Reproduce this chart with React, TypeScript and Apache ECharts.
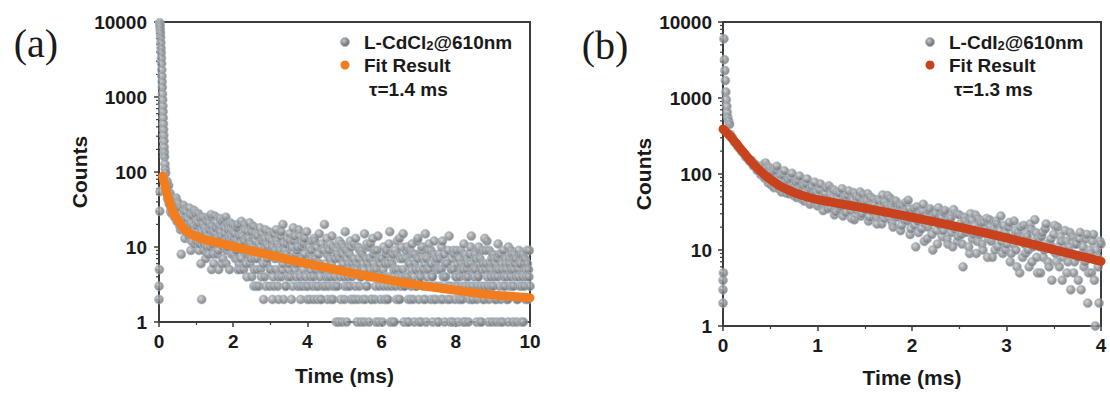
import React, { useEffect, useRef } from 'react';
import * as echarts from 'echarts';

// ---- Panel (a): L-CdCl2 emission decay monitored at 610 nm ----
const timeTicksA = [0, 2, 4, 6, 8, 10];
const countTicks = [1, 10, 100, 1000, 10000];

// background before the pulse and the excitation spike
const spikeA: [number, number][] = [
  [0.0, 2], [0.0, 3], [0.01, 5], [0.02, 30], [0.03, 55],
  [0.02, 9800], [0.025, 9200], [0.03, 8600], [0.035, 7800], [0.04, 7100], [0.045, 6200],
  [0.05, 5300], [0.055, 4500], [0.06, 3900], [0.065, 3300], [0.07, 2800], [0.075, 2300],
  [0.08, 1900], [0.085, 1600], [0.09, 1350], [0.095, 1100], [0.1, 920], [0.105, 760],
  [0.11, 640], [0.115, 530], [0.12, 440], [0.125, 370], [0.13, 310], [0.135, 260],
  [0.14, 215], [0.145, 185], [0.15, 160], [0.16, 128], [0.17, 110], [0.18, 97],
];

// 0.2 - 2 ms
const earlyA: [number, number][] = [
  [0.2, 62], [0.21, 58], [0.22, 75], [0.23, 44], [0.24, 48], [0.26, 66], [0.27, 38],
  [0.28, 41], [0.29, 47], [0.3, 52], [0.31, 30], [0.32, 35], [0.33, 42], [0.34, 28],
  [0.36, 44], [0.38, 36], [0.4, 27], [0.42, 25], [0.44, 33], [0.45, 31], [0.46, 45],
  [0.48, 22], [0.5, 40], [0.52, 38], [0.54, 27], [0.56, 19], [0.57, 34], [0.58, 17],
  [0.6, 8], [0.61, 22], [0.62, 26], [0.64, 21], [0.66, 36], [0.68, 30], [0.69, 20],
  [0.7, 13], [0.72, 16], [0.74, 29], [0.76, 24], [0.78, 18], [0.8, 14], [0.82, 33],
  [0.84, 27], [0.85, 21], [0.86, 9], [0.88, 12], [0.9, 26], [0.92, 19], [0.94, 31],
  [0.95, 16], [0.96, 11], [0.98, 28], [1.0, 22],
  [1.01, 12], [1.02, 19], [1.04, 15], [1.05, 21], [1.06, 28], [1.08, 9], [1.09, 14],
  [1.1, 11], [1.12, 24], [1.13, 6], [1.14, 16], [1.15, 2], [1.16, 12], [1.17, 20],
  [1.18, 25], [1.2, 9], [1.21, 11], [1.22, 18], [1.24, 13], [1.25, 16], [1.26, 7],
  [1.28, 22], [1.29, 10], [1.3, 14], [1.32, 8], [1.33, 25], [1.34, 21], [1.36, 17],
  [1.37, 13], [1.38, 10], [1.4, 27], [1.41, 19], [1.42, 5], [1.44, 11], [1.45, 8],
  [1.46, 16], [1.48, 6], [1.49, 12], [1.5, 26], [1.52, 15], [1.53, 18], [1.54, 11],
  [1.56, 21], [1.57, 13], [1.58, 8], [1.6, 9], [1.61, 5], [1.62, 19], [1.64, 24],
  [1.65, 16], [1.66, 13], [1.68, 14], [1.69, 22], [1.7, 6], [1.72, 7], [1.73, 10],
  [1.74, 23], [1.76, 18], [1.77, 15], [1.78, 12], [1.8, 25], [1.81, 6], [1.82, 9],
  [1.84, 10], [1.85, 20], [1.86, 17], [1.88, 13], [1.89, 11], [1.9, 5], [1.92, 21],
  [1.93, 17], [1.94, 14], [1.96, 8], [1.97, 12], [1.98, 20], [2.0, 16],
];

// 2 - 4 ms
const midA: [number, number][] = [
  [2.01, 8], [2.02, 13], [2.04, 15], [2.05, 19], [2.06, 7], [2.08, 9], [2.09, 12],
  [2.1, 18], [2.12, 20], [2.13, 5], [2.14, 10], [2.16, 6], [2.17, 14], [2.18, 5],
  [2.2, 11], [2.21, 7], [2.22, 22], [2.24, 14], [2.25, 10], [2.26, 9], [2.28, 5],
  [2.29, 20], [2.3, 12], [2.32, 17], [2.33, 9], [2.34, 6], [2.36, 8], [2.37, 4],
  [2.38, 16], [2.4, 12], [2.41, 13], [2.42, 8], [2.44, 21], [2.45, 6], [2.46, 11],
  [2.48, 7], [2.49, 16], [2.5, 4], [2.52, 10], [2.53, 9], [2.54, 19], [2.56, 3],
  [2.57, 5], [2.58, 7], [2.6, 15], [2.61, 12], [2.62, 3], [2.64, 5], [2.65, 7],
  [2.66, 14], [2.68, 11], [2.69, 3], [2.7, 9], [2.72, 18], [2.73, 10], [2.74, 5],
  [2.76, 4], [2.77, 15], [2.78, 12], [2.8, 9], [2.81, 6], [2.82, 2], [2.84, 13],
  [2.85, 4], [2.86, 17], [2.88, 3], [2.89, 11], [2.9, 6], [2.92, 7], [2.93, 8],
  [2.94, 10], [2.96, 16], [2.97, 13], [2.98, 3], [3.0, 5], [3.01, 5], [3.02, 8],
  [3.04, 12], [3.05, 10], [3.06, 2], [3.08, 4], [3.09, 3], [3.1, 15], [3.12, 9],
  [3.13, 7], [3.14, 5], [3.16, 17], [3.17, 12], [3.18, 11], [3.2, 3], [3.21, 4],
  [3.22, 2], [3.24, 10], [3.25, 9], [3.26, 7], [3.28, 14], [3.29, 16], [3.3, 4],
  [3.32, 5], [3.33, 6], [3.34, 20], [3.36, 2], [3.37, 11], [3.38, 9], [3.4, 8],
  [3.41, 3], [3.42, 3], [3.44, 11], [3.45, 8], [3.46, 13], [3.48, 4], [3.49, 5],
  [3.5, 6], [3.52, 15], [3.53, 12], [3.54, 4], [3.56, 7], [3.57, 2], [3.58, 10],
  [3.6, 3], [3.61, 7], [3.62, 18], [3.64, 12], [3.65, 14], [3.66, 5], [3.68, 6],
  [3.69, 4], [3.7, 8], [3.72, 9], [3.73, 10], [3.74, 3], [3.76, 17], [3.77, 6],
  [3.78, 14], [3.8, 4], [3.81, 3], [3.82, 2], [3.84, 10], [3.85, 12], [3.86, 7],
  [3.88, 3], [3.89, 5], [3.9, 11], [3.92, 13], [3.93, 8], [3.94, 4], [3.96, 6],
  [3.97, 3], [3.98, 16], [4.0, 2],
];

// 4 - 6 ms
const lateA1: [number, number][] = [
  [4.01, 3], [4.02, 6], [4.04, 10], [4.05, 8], [4.06, 2], [4.08, 4], [4.09, 5],
  [4.1, 9], [4.12, 7], [4.13, 12], [4.14, 3], [4.16, 2], [4.17, 4], [4.18, 13],
  [4.2, 12], [4.21, 7], [4.22, 5], [4.24, 3], [4.25, 10], [4.26, 2], [4.28, 6],
  [4.29, 3], [4.3, 8], [4.32, 15], [4.33, 6], [4.34, 4], [4.36, 2], [4.37, 2],
  [4.38, 11], [4.4, 5], [4.41, 9], [4.42, 3], [4.44, 9], [4.45, 5], [4.46, 20],
  [4.48, 3], [4.49, 4], [4.5, 6], [4.52, 13], [4.53, 8], [4.54, 2], [4.56, 4],
  [4.57, 3], [4.58, 9], [4.6, 7], [4.61, 11], [4.62, 4], [4.64, 2], [4.65, 6],
  [4.66, 14], [4.68, 10], [4.69, 2], [4.7, 3], [4.72, 5], [4.73, 4], [4.74, 7],
  [4.76, 3], [4.77, 9], [4.78, 1], [4.8, 8], [4.81, 3], [4.82, 5], [4.84, 1],
  [4.85, 7], [4.86, 12], [4.88, 4], [4.89, 5], [4.9, 2], [4.92, 11], [4.93, 1],
  [4.94, 8], [4.96, 6], [4.97, 10], [4.98, 4], [5.0, 2], [5.01, 3], [5.02, 16],
  [5.04, 9], [5.05, 7], [5.06, 1], [5.08, 3], [5.09, 4], [5.1, 6], [5.12, 5],
  [5.13, 8], [5.14, 3], [5.16, 12], [5.17, 2], [5.18, 10], [5.2, 4], [5.21, 6],
  [5.22, 2], [5.24, 7], [5.25, 11], [5.26, 5], [5.28, 2], [5.29, 3], [5.3, 13],
  [5.32, 6], [5.33, 5], [5.34, 1], [5.36, 10], [5.37, 2], [5.38, 7], [5.4, 3],
  [5.41, 9], [5.42, 4], [5.44, 1], [5.45, 4], [5.46, 9], [5.48, 8], [5.49, 6],
  [5.5, 2], [5.52, 5], [5.53, 1], [5.54, 15], [5.56, 2], [5.57, 7], [5.58, 3],
  [5.6, 11], [5.61, 3], [5.62, 6], [5.64, 4], [5.65, 10], [5.66, 1], [5.68, 7],
  [5.69, 5], [5.7, 11], [5.72, 2], [5.73, 2], [5.74, 4], [5.76, 13], [5.77, 6],
  [5.78, 8], [5.8, 5], [5.81, 9], [5.82, 2], [5.84, 3], [5.85, 1], [5.86, 5],
  [5.88, 9], [5.89, 4], [5.9, 14], [5.92, 1], [5.93, 7], [5.94, 3], [5.96, 6],
  [5.97, 2], [5.98, 7], [6.0, 4],
];

// 6 - 8 ms
const lateA2: [number, number][] = [
  [6.01, 7], [6.02, 1], [6.04, 5], [6.05, 3], [6.06, 10], [6.08, 2], [6.09, 6],
  [6.1, 4], [6.12, 8], [6.13, 9], [6.14, 2], [6.16, 3], [6.17, 2], [6.18, 6],
  [6.2, 11], [6.21, 4], [6.22, 16], [6.24, 1], [6.25, 7], [6.26, 3], [6.28, 6],
  [6.29, 1], [6.3, 8], [6.32, 4], [6.33, 5], [6.34, 1], [6.36, 9], [6.37, 3],
  [6.38, 5], [6.4, 2], [6.41, 8], [6.42, 12], [6.44, 5], [6.45, 4], [6.46, 2],
  [6.48, 13], [6.49, 2], [6.5, 7], [6.52, 3], [6.53, 10], [6.54, 4], [6.56, 7],
  [6.57, 5], [6.58, 15], [6.6, 1], [6.61, 3], [6.62, 3], [6.64, 4], [6.65, 7],
  [6.66, 9], [6.68, 10], [6.69, 4], [6.7, 1], [6.72, 2], [6.73, 1], [6.74, 6],
  [6.76, 6], [6.77, 9], [6.78, 2], [6.8, 3], [6.81, 5], [6.82, 11], [6.84, 8],
  [6.85, 2], [6.86, 4], [6.88, 1], [6.89, 6], [6.9, 8], [6.92, 5], [6.93, 3],
  [6.94, 3], [6.96, 12], [6.97, 7], [6.98, 13], [7.0, 2], [7.01, 1], [7.02, 5],
  [7.04, 4], [7.05, 4], [7.06, 1], [7.08, 9], [7.09, 10], [7.1, 7], [7.12, 3],
  [7.13, 5], [7.14, 2], [7.16, 6], [7.17, 2], [7.18, 15], [7.2, 1], [7.21, 7],
  [7.22, 4], [7.24, 5], [7.25, 3], [7.26, 9], [7.28, 11], [7.29, 5], [7.3, 3],
  [7.32, 2], [7.33, 9], [7.34, 6], [7.36, 4], [7.37, 4], [7.38, 1], [7.4, 8],
  [7.41, 2], [7.42, 12], [7.44, 3], [7.45, 6], [7.46, 2], [7.48, 7], [7.49, 3],
  [7.5, 5], [7.52, 1], [7.53, 1], [7.54, 8], [7.56, 5], [7.57, 7], [7.58, 3],
  [7.6, 2], [7.61, 5], [7.62, 10], [7.64, 12], [7.65, 2], [7.66, 4], [7.68, 4],
  [7.69, 8], [7.7, 1], [7.72, 6], [7.73, 4], [7.74, 6], [7.76, 3], [7.77, 6],
  [7.78, 2], [7.8, 9], [7.81, 3], [7.82, 14], [7.84, 2], [7.85, 1], [7.86, 3],
  [7.88, 5], [7.89, 5], [7.9, 7], [7.92, 1], [7.93, 9], [7.94, 5], [7.96, 8],
  [7.97, 3], [7.98, 2], [8.0, 4],
];

// 8 - 10 ms
const lateA3: [number, number][] = [
  [8.01, 4], [8.02, 9], [8.04, 3], [8.05, 6], [8.06, 1], [8.08, 7], [8.09, 2],
  [8.1, 4], [8.12, 2], [8.13, 9], [8.14, 6], [8.16, 5], [8.17, 3], [8.18, 2],
  [8.2, 1], [8.21, 5], [8.22, 11], [8.24, 8], [8.25, 1], [8.26, 3], [8.28, 4],
  [8.29, 7], [8.3, 5], [8.32, 6], [8.33, 4], [8.34, 1], [8.36, 3], [8.37, 2],
  [8.38, 8], [8.4, 10], [8.41, 6], [8.42, 14], [8.44, 2], [8.45, 3], [8.46, 2],
  [8.48, 5], [8.49, 8], [8.5, 4], [8.52, 8], [8.53, 5], [8.54, 7], [8.56, 1],
  [8.57, 2], [8.58, 3], [8.6, 4], [8.61, 4], [8.62, 10], [8.64, 6], [8.65, 7],
  [8.66, 1], [8.68, 3], [8.69, 1], [8.7, 5], [8.72, 9], [8.73, 6], [8.74, 2],
  [8.76, 2], [8.77, 3], [8.78, 13], [8.8, 5], [8.81, 9], [8.82, 6], [8.84, 12],
  [8.85, 4], [8.86, 3], [8.88, 1], [8.89, 2], [8.9, 9], [8.92, 6], [8.93, 5],
  [8.94, 4], [8.96, 3], [8.97, 7], [8.98, 1], [9.0, 8], [9.01, 3], [9.02, 7],
  [9.04, 4], [9.05, 6], [9.06, 2], [9.08, 2], [9.09, 1], [9.1, 5], [9.12, 7],
  [9.13, 4], [9.14, 11], [9.16, 5], [9.17, 8], [9.18, 3], [9.2, 1], [9.21, 2],
  [9.22, 8], [9.24, 6], [9.25, 5], [9.26, 1], [9.28, 9], [9.29, 3], [9.3, 4],
  [9.32, 3], [9.33, 7], [9.34, 6], [9.36, 5], [9.37, 4], [9.38, 2], [9.4, 2],
  [9.41, 1], [9.42, 10], [9.44, 7], [9.45, 6], [9.46, 3], [9.48, 4], [9.49, 9],
  [9.5, 5], [9.52, 8], [9.53, 3], [9.54, 1], [9.56, 3], [9.57, 5], [9.58, 8],
  [9.6, 6], [9.61, 7], [9.62, 4], [9.64, 1], [9.65, 2], [9.66, 2], [9.68, 5],
  [9.69, 4], [9.7, 9], [9.72, 3], [9.73, 6], [9.74, 6], [9.76, 8], [9.77, 1],
  [9.78, 3], [9.8, 4], [9.81, 8], [9.82, 1], [9.84, 6], [9.85, 3], [9.86, 7],
  [9.88, 2], [9.89, 5], [9.9, 4], [9.92, 9], [9.93, 6], [9.94, 2], [9.96, 5],
  [9.97, 4], [9.98, 9], [10.0, 3],
];

const fitA: [number, number][] = [
  [0.1, 88], [0.15, 70], [0.2, 55], [0.25, 45], [0.3, 37], [0.4, 28], [0.5, 23], [0.6, 19.5],
  [0.7, 17], [0.8, 15.5], [1.0, 13.8], [1.25, 12.5], [1.5, 11.7], [2.0, 10.2], [2.5, 8.9],
  [3.0, 7.8], [3.5, 6.8], [4.0, 6.0], [4.5, 5.3], [5.0, 4.7], [5.5, 4.2], [6.0, 3.8],
  [6.5, 3.4], [7.0, 3.1], [7.5, 2.85], [8.0, 2.65], [8.5, 2.45], [9.0, 2.3], [9.5, 2.2], [10.0, 2.1],
];

// ---- Panel (b): L-CdI2 emission decay monitored at 610 nm ----
const timeTicksB = [0, 1, 2, 3, 4];

const spikeB: [number, number][] = [
  [0.0, 2], [0.0, 3], [0.0, 4], [0.005, 5],
  [0.01, 6000], [0.015, 3200], [0.02, 2300], [0.025, 1700], [0.03, 1200], [0.035, 950],
  [0.04, 780], [0.045, 650], [0.05, 560], [0.06, 500], [0.07, 450],
  [0.08, 330], [0.1, 300], [0.12, 262], [0.14, 250], [0.16, 226], [0.18, 214], [0.2, 196],
  [0.22, 188], [0.24, 168], [0.26, 162], [0.28, 148], [0.3, 152], [0.32, 128], [0.34, 135],
  [0.36, 112], [0.38, 124], [0.4, 98],
];

// 0.4 - 2 ms
const earlyB: [number, number][] = [
  [0.41, 115], [0.42, 131], [0.43, 96], [0.44, 88], [0.45, 140], [0.46, 118], [0.47, 84],
  [0.48, 76], [0.49, 122], [0.5, 104], [0.51, 72], [0.52, 92], [0.53, 108], [0.54, 66],
  [0.55, 80], [0.56, 112], [0.57, 126], [0.58, 71], [0.59, 64], [0.6, 84], [0.61, 98],
  [0.62, 58], [0.63, 75], [0.64, 96], [0.65, 110], [0.66, 63], [0.67, 56], [0.68, 78],
  [0.69, 84], [0.7, 55], [0.71, 66], [0.72, 88], [0.73, 102], [0.74, 60], [0.75, 52],
  [0.76, 70], [0.77, 79], [0.78, 49], [0.79, 61], [0.8, 81], [0.81, 94], [0.82, 52],
  [0.83, 47], [0.84, 66], [0.85, 71], [0.86, 44], [0.87, 57], [0.88, 74], [0.89, 86],
  [0.9, 53], [0.91, 44], [0.92, 40], [0.93, 63], [0.94, 68], [0.95, 51], [0.96, 47],
  [0.97, 78], [0.98, 58], [0.99, 42], [1.0, 38],
  [1.01, 52], [1.02, 62], [1.03, 74], [1.04, 41], [1.05, 39], [1.06, 33], [1.07, 48],
  [1.08, 55], [1.09, 66], [1.1, 44], [1.11, 35], [1.12, 70], [1.13, 53], [1.14, 36],
  [1.15, 43], [1.16, 49], [1.17, 62], [1.18, 29], [1.19, 32], [1.2, 58], [1.21, 47],
  [1.22, 40], [1.23, 56], [1.24, 34], [1.25, 37], [1.26, 64], [1.27, 28], [1.28, 45],
  [1.29, 50], [1.3, 31], [1.31, 41], [1.32, 52], [1.33, 60], [1.34, 38], [1.35, 33],
  [1.36, 26], [1.37, 46], [1.38, 57], [1.39, 25], [1.4, 42], [1.41, 51], [1.42, 33],
  [1.43, 38], [1.44, 48], [1.45, 58], [1.46, 28], [1.47, 30], [1.48, 54], [1.49, 43],
  [1.5, 36], [1.51, 34], [1.52, 44], [1.53, 55], [1.54, 24], [1.55, 27], [1.56, 50],
  [1.57, 40], [1.58, 32], [1.59, 47], [1.6, 39], [1.61, 31], [1.62, 27], [1.63, 22],
  [1.64, 46], [1.65, 44], [1.66, 35], [1.67, 36], [1.68, 22], [1.69, 53], [1.7, 43],
  [1.71, 26], [1.72, 30], [1.73, 39], [1.74, 52], [1.75, 33], [1.76, 26], [1.77, 48],
  [1.78, 37], [1.79, 23], [1.8, 20], [1.81, 35], [1.82, 41], [1.83, 44], [1.84, 29],
  [1.85, 27], [1.86, 34], [1.87, 39], [1.88, 18], [1.89, 21], [1.9, 38], [1.91, 32],
  [1.92, 25], [1.93, 42], [1.94, 31], [1.95, 24], [1.96, 45], [1.97, 35], [1.98, 16],
  [1.99, 19], [2.0, 28],
];

// 2 - 4 ms
const lateB: [number, number][] = [
  [2.01, 30], [2.02, 35], [2.03, 21], [2.04, 11], [2.05, 37], [2.06, 24], [2.07, 17],
  [2.08, 30], [2.09, 26], [2.1, 19], [2.11, 32], [2.12, 40], [2.13, 13], [2.14, 22],
  [2.15, 27], [2.16, 14], [2.17, 20], [2.18, 33], [2.19, 35], [2.2, 25], [2.21, 16],
  [2.22, 10], [2.23, 24], [2.24, 28], [2.25, 30], [2.26, 18], [2.27, 12], [2.28, 36],
  [2.29, 22], [2.3, 21], [2.31, 27], [2.32, 15], [2.33, 18], [2.34, 31], [2.35, 33],
  [2.36, 23], [2.37, 14], [2.38, 12], [2.39, 21], [2.4, 27], [2.41, 26], [2.42, 17],
  [2.43, 11], [2.44, 34], [2.45, 19], [2.46, 20], [2.47, 30], [2.48, 13], [2.49, 15],
  [2.5, 29], [2.51, 22], [2.52, 16], [2.53, 12], [2.54, 6], [2.55, 27], [2.56, 24],
  [2.57, 17], [2.58, 19], [2.59, 20], [2.6, 11], [2.61, 9], [2.62, 30], [2.63, 25],
  [2.64, 14], [2.65, 16], [2.66, 21], [2.67, 29], [2.68, 9], [2.69, 13], [2.7, 26],
  [2.71, 19], [2.72, 16], [2.73, 23], [2.74, 12], [2.75, 10], [2.76, 23], [2.77, 17],
  [2.78, 18], [2.79, 26], [2.8, 8], [2.81, 14], [2.82, 25], [2.83, 20], [2.84, 13],
  [2.85, 8], [2.86, 19], [2.87, 16], [2.88, 10], [2.89, 24], [2.9, 22], [2.91, 11],
  [2.92, 15], [2.93, 18], [2.94, 28], [2.95, 13], [2.96, 9], [2.97, 21], [2.98, 17],
  [2.99, 10], [3.0, 12],
  [3.01, 15], [3.02, 20], [3.03, 23], [3.04, 7], [3.05, 9], [3.06, 14], [3.07, 12],
  [3.08, 24], [3.09, 18], [3.1, 10], [3.11, 6], [3.12, 17], [3.13, 14], [3.14, 5],
  [3.15, 20], [3.16, 13], [3.17, 8], [3.18, 21], [3.19, 12], [3.2, 9], [3.21, 16],
  [3.22, 15], [3.23, 10], [3.24, 6], [3.25, 22], [3.26, 19], [3.27, 7], [3.28, 11],
  [3.29, 13], [3.3, 25], [3.31, 17], [3.32, 8], [3.33, 5], [3.34, 14], [3.35, 11],
  [3.36, 5], [3.37, 15], [3.38, 17], [3.39, 8], [3.4, 10], [3.41, 19], [3.42, 22],
  [3.43, 12], [3.44, 7], [3.45, 6], [3.46, 12], [3.47, 14], [3.48, 4], [3.49, 10],
  [3.5, 16], [3.51, 21], [3.52, 9], [3.53, 7], [3.54, 20], [3.55, 11], [3.56, 6],
  [3.57, 15], [3.58, 13], [3.59, 4], [3.6, 8], [3.61, 10], [3.62, 18], [3.63, 13],
  [3.64, 5], [3.65, 7], [3.66, 11], [3.67, 17], [3.68, 3], [3.69, 9], [3.7, 15],
  [3.71, 5], [3.72, 7], [3.73, 12], [3.74, 12], [3.75, 8], [3.76, 4], [3.77, 14],
  [3.78, 17], [3.79, 3], [3.8, 9], [3.81, 11], [3.82, 6], [3.83, 7], [3.84, 14],
  [3.85, 16], [3.86, 2], [3.87, 5], [3.88, 10], [3.89, 9], [3.9, 5], [3.91, 13],
  [3.92, 16], [3.93, 4], [3.94, 1], [3.95, 10], [3.96, 8], [3.97, 6], [3.98, 2],
  [3.99, 13], [4.0, 12],
];

const fitB: [number, number][] = [
  [0.0, 390], [0.05, 340], [0.1, 290], [0.15, 245], [0.2, 205], [0.25, 172], [0.3, 145],
  [0.35, 124], [0.4, 108], [0.45, 95], [0.5, 85], [0.6, 70], [0.7, 61], [0.8, 54],
  [0.9, 49.5], [1.0, 46], [1.25, 40.5], [1.5, 35.5], [1.75, 31], [2.0, 27], [2.25, 23.3],
  [2.5, 20], [2.75, 17], [3.0, 14.4], [3.25, 12.1], [3.5, 10.1], [3.75, 8.5], [4.0, 7.1],
];

const decayA = [...spikeA, ...earlyA, ...midA, ...lateA1, ...lateA2, ...lateA3];
const decayB = [...spikeB, ...earlyB, ...lateB];

const seriesNames = {
  dataA: 'L-CdCl2@610nm',
  dataB: 'L-CdI2@610nm',
  fit: 'Fit Result',
};
const lifetimes = ['τ=1.4 ms', 'τ=1.3 ms'];
const panelTags = ['(a)', '(b)'];

const SANS = '"Liberation Sans", Arial, Helvetica, sans-serif';
const SERIF = '"Liberation Serif", "Times New Roman", serif';
const INK = '#1a1a1a';
const FRAME = '#3c3c3c';
const ORANGE = '#f27d1f';
const RUST = '#c8421d';
const DOT_EDGE = '#a7bed4';

const dotFill = () =>
  new echarts.graphic.RadialGradient(0.38, 0.35, 0.7, [
    { offset: 0, color: '#c8c8c8' },
    { offset: 0.5, color: '#8f8f8f' },
    { offset: 1, color: '#676767' },
  ]);

function timeAxis(gridIndex: number, ticks: number[], nameGap: number) {
  return {
    type: 'value',
    gridIndex,
    min: ticks[0],
    max: ticks[ticks.length - 1],
    interval: ticks[1] - ticks[0],
    name: 'Time (ms)',
    nameLocation: 'middle',
    nameGap,
    nameTextStyle: { fontFamily: SANS, fontWeight: 'bold', fontSize: 21, color: INK },
    axisLine: { show: true, onZero: false, lineStyle: { color: FRAME, width: 2 } },
    axisTick: { show: true, inside: false, length: 5, lineStyle: { color: FRAME, width: 1.5 } },
    minorTick: { show: true, splitNumber: 2, length: 3, lineStyle: { color: FRAME, width: 1.2 } },
    axisLabel: { margin: 10, fontFamily: SANS, fontWeight: 'bold', fontSize: 19, color: INK },
    splitLine: { show: false },
    minorSplitLine: { show: false },
  };
}

function countAxis(gridIndex: number, labelMargin: number) {
  return {
    type: 'log',
    logBase: 10,
    gridIndex,
    min: countTicks[0],
    max: countTicks[countTicks.length - 1],
    splitNumber: countTicks.length - 1,
    name: 'Counts',
    nameLocation: 'middle',
    nameGap: 69,
    nameTextStyle: { fontFamily: SANS, fontWeight: 'bold', fontSize: 21, color: INK },
    axisLine: { show: true, onZero: false, lineStyle: { color: FRAME, width: 2 } },
    axisTick: { show: true, inside: false, length: 5, lineStyle: { color: FRAME, width: 1.5 } },
    axisLabel: {
      margin: labelMargin,
      fontFamily: SANS,
      fontWeight: 'bold',
      fontSize: 19,
      color: INK,
      formatter: (v: number) => String(Math.round(v)),
    },
    splitLine: { show: false },
  };
}

function textEl(text: string, x: number, y: number, extra: any = {}) {
  return {
    type: 'text',
    x,
    y,
    style: {
      text,
      font: `bold 19px ${SANS}`,
      fill: INK,
      align: 'left',
      textAlign: 'left',
      verticalAlign: 'middle',
      textVerticalAlign: 'middle',
      ...extra,
    },
  };
}

function legendBlock(x: number, label: string, sub: string, tail: string, fitColor: string, tau: string) {
  return [
    {
      type: 'circle',
      shape: { cx: x, cy: 42, r: 4.5 },
      style: { fill: dotFill(), stroke: DOT_EDGE, lineWidth: 0.8 },
    },
    textEl(`{m|${label}}{s|${sub}}{m|${tail}}`, x + 19, 42, {
      rich: {
        m: { fontFamily: SANS, fontWeight: 'bold', fontSize: 19, fill: INK, verticalAlign: 'bottom' },
        s: { fontFamily: SANS, fontWeight: 'bold', fontSize: 13, fill: INK, verticalAlign: 'bottom' },
      },
    }),
    { type: 'circle', shape: { cx: x, cy: 65, r: 4.5 }, style: { fill: fitColor } },
    textEl(seriesNames.fit, x + 19, 65),
    textEl(tau, x + 24, 89),
  ];
}

function panelTag(text: string, x: number, y: number) {
  return {
    type: 'text',
    x,
    y,
    style: {
      text,
      font: `40px ${SERIF}`,
      fill: INK,
      align: 'center',
      textAlign: 'center',
      verticalAlign: 'middle',
      textVerticalAlign: 'middle',
    },
  };
}

export default function App() {
  const ref = useRef<HTMLDivElement>(null);

  useEffect(() => {
    if (!ref.current) return;
    const chart = echarts.init(ref.current, undefined, { renderer: 'svg' });

    const scatterStyle = { color: dotFill(), borderColor: DOT_EDGE, borderWidth: 0.8 };
    const fitLine = (color: string) => ({
      type: 'line',
      smooth: 0.3,
      showSymbol: false,
      symbol: 'none',
      lineStyle: { color, width: 9, cap: 'round', join: 'round' },
      z: 3,
    });

    chart.setOption({
      animation: false,
      backgroundColor: '#ffffff',
      textStyle: { fontFamily: SANS },
      grid: [
        { left: 159, width: 371, top: 22, height: 300, show: true, borderColor: FRAME, borderWidth: 2, backgroundColor: 'transparent' },
        { left: 723, width: 378, top: 22, height: 304, show: true, borderColor: FRAME, borderWidth: 2, backgroundColor: 'transparent' },
      ],
      xAxis: [timeAxis(0, timeTicksA, 43), timeAxis(1, timeTicksB, 41)],
      yAxis: [countAxis(0, 12), countAxis(1, 11)],
      series: [
        {
          name: seriesNames.dataA, type: 'scatter', xAxisIndex: 0, yAxisIndex: 0,
          symbol: 'circle', symbolSize: 9, data: decayA, itemStyle: scatterStyle, z: 2,
        },
        { name: seriesNames.fit, xAxisIndex: 0, yAxisIndex: 0, data: fitA, ...fitLine(ORANGE) },
        {
          name: seriesNames.dataB, type: 'scatter', xAxisIndex: 1, yAxisIndex: 1,
          symbol: 'circle', symbolSize: 9, data: decayB, itemStyle: scatterStyle, z: 2,
        },
        { name: seriesNames.fit, xAxisIndex: 1, yAxisIndex: 1, data: fitB, ...fitLine(RUST) },
      ],
    });

    // minor ticks at 2..9 of every decade on both log axes, placed through the axis scale
    const minorTicks: any[] = [];
    [0, 1].forEach((idx) => {
      const axisX = chart.convertToPixel({ xAxisIndex: idx }, 0) as number;
      for (let d = 0; d < countTicks.length - 1; d++) {
        for (let k = 2; k <= 9; k++) {
          const y = chart.convertToPixel({ yAxisIndex: idx }, k * countTicks[d]) as number;
          minorTicks.push({
            type: 'line',
            shape: { x1: axisX - 3, y1: y, x2: axisX, y2: y },
            style: { stroke: FRAME, lineWidth: 1.2 },
            silent: true,
          });
        }
      }
    });

    chart.setOption({
      graphic: [
        panelTag(panelTags[0], 36, 43),
        panelTag(panelTags[1], 605, 45),
        ...legendBlock(345, 'L-CdCl', '2', '@610nm', ORANGE, lifetimes[0]),
        ...legendBlock(930, 'L-CdI', '2', '@610nm', RUST, lifetimes[1]),
        ...minorTicks,
      ],
    });

    return () => chart.dispose();
  }, []);

  return (
    <div
      ref={ref}
      style={{ position: 'fixed', left: 0, top: 0, width: 1110, height: 394, background: '#fff' }}
    />
  );
}
